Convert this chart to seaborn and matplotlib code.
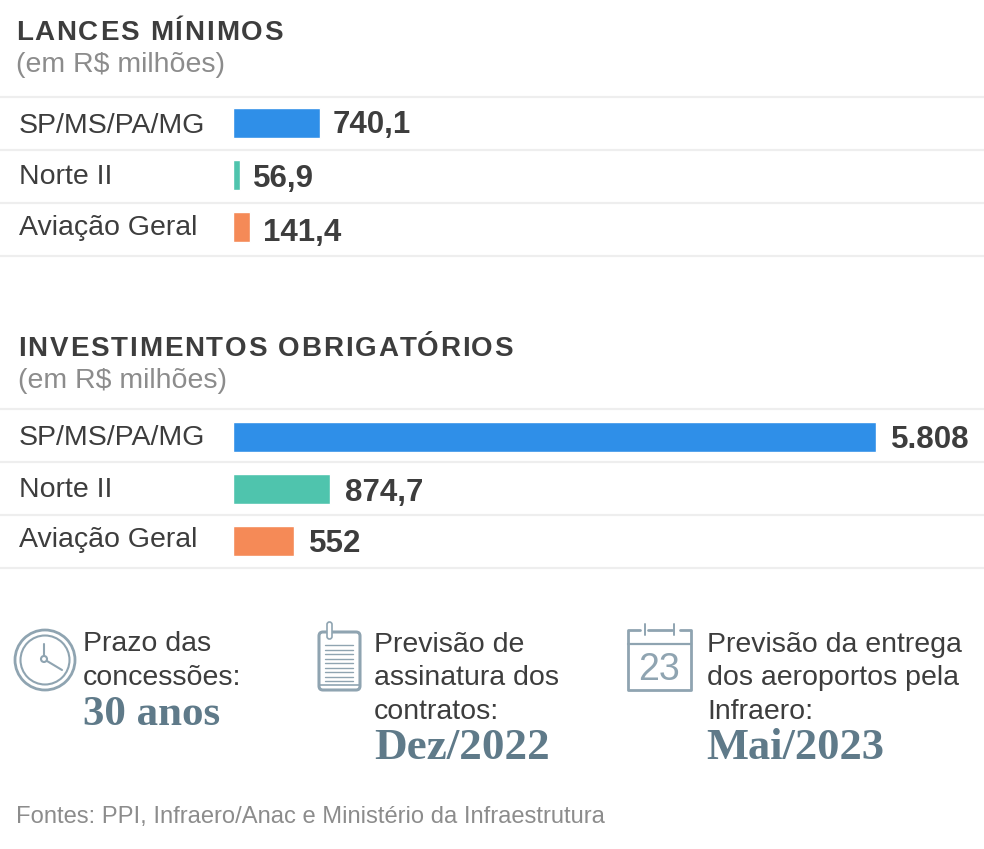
import matplotlib
matplotlib.use('Agg')
import matplotlib.pyplot as plt
import seaborn as sns
from matplotlib.patches import Circle, FancyBboxPatch

W, H = 984, 849

categories = ['SP/MS/PA/MG', 'Norte II', 'Aviação Geral']
lances = [740.1, 56.9, 141.4]
lances_labels = ['740,1', '56,9', '141,4']
investimentos = [5808, 874.7, 552]
investimentos_labels = ['5.808', '874,7', '552']
bar_colors = ['#2f8fe8', '#4fc4ad', '#f58a57']

SANS = 'Liberation Sans'
SERIF = 'Liberation Serif'
DARK = '#3d3d3d'
GRAY = '#8c8c8c'
ICON = '#8fa4b1'
SLATE = '#5f7a89'
LINE = '#eeeeee'

sns.set_theme(style='white')
plt.rcParams['font.family'] = SANS

fig = plt.figure(figsize=(W / 100, H / 100), dpi=100, facecolor='white')

# overlay in pixel coordinates, for texts and icons
bg = fig.add_axes([0, 0, 1, 1])
bg.set_xlim(0, W)
bg.set_ylim(H, 0)
bg.axis('off')


def spaced_text(x, y, s, size, spacing, color):
    # matplotlib has no letter spacing, so place the letters one by one
    renderer = fig.canvas.get_renderer()
    t = bg.text(x, y, '', fontsize=size, fontweight='bold', color=color)
    prop = t.get_fontproperties()
    for i, ch in enumerate(s):
        w = renderer.get_text_width_height_descent(s[:i], prop, False)[0] if i else 0
        bg.text(x + w + i * spacing, y, ch, fontsize=size, fontweight='bold', color=color)


def bar_panel(top, values, labels, px_per_unit, label_ys, value_dx, value_y0, value_step):
    # bars are 52px apart and about 30px thick, starting at x=233
    ax = fig.add_axes([233 / W, 1 - (top + 156) / H, (W - 233) / W, 156 / H])
    sns.barplot(x=values, y=categories, hue=categories, palette=bar_colors, legend=False,
                width=30 / 52, saturation=1, orient='h', ax=ax)
    ax.set_xlim(0, (W - 233) / px_per_unit)
    ax.set_ylim(2.5, -0.5)
    ax.axis('off')
    ax.patch.set_alpha(0)
    for i, (v, lab) in enumerate(zip(values, labels)):
        ax.annotate(lab, (v, i), xytext=(value_dx, -(value_y0 + value_step * i)), textcoords='offset pixels',
                    fontsize=22.5, fontweight='bold', color=DARK, va='baseline', ha='left')
    for cat, y in zip(categories, label_ys):
        bg.text(19, y, cat, fontsize=20.5, color=DARK)


# separators
for y0 in (97, 409):
    for i in range(4):
        bg.plot([0, W], [y0 + 53 * i] * 2, color=LINE, lw=1.6)

# headers
spaced_text(16, 40, 'LANCES MÍNIMOS', 20, 1.75, DARK)
bg.text(16, 72, '(em R$ milhões)', fontsize=20.5, color=GRAY)
spaced_text(18, 356, 'INVESTIMENTOS OBRIGATÓRIOS', 20, 1.85, DARK)
bg.text(18, 388, '(em R$ milhões)', fontsize=20.5, color=GRAY)

bar_panel(96.5, lances, lances_labels, 87 / 740.1, [133, 184, 235], 13, 10, 2.2)
bar_panel(410.5, investimentos, investimentos_labels, 643 / 5808, [445, 497, 547], 15, 12, 0)

# clock icon
bg.add_patch(Circle((45, 660), 30, fill=False, ec=ICON, lw=2))
bg.add_patch(Circle((45, 660), 24.5, fill=False, ec=ICON, lw=1.5))
bg.add_patch(Circle((44, 659), 3, fill=False, ec=ICON, lw=1.5))
bg.plot([44, 44], [644, 656], color=ICON, lw=1.5)
bg.plot([47, 62], [661, 670], color=ICON, lw=1.5)

# notepad icon
bg.add_patch(FancyBboxPatch((319, 632), 41, 58, boxstyle='round,pad=0,rounding_size=4',
                            fill=False, ec=ICON, lw=2.2))
bg.plot([319, 360], [685, 685], color=ICON, lw=1.2)
for i in range(9):
    bg.plot([325, 353], [645 + 4.5 * i] * 2, color=ICON, lw=1)
bg.add_patch(FancyBboxPatch((327, 622), 5, 17, boxstyle='round,pad=0,rounding_size=2.5',
                            fc='white', ec=ICON, lw=1.2, zorder=3))

# calendar icon
bg.plot([640, 628, 628, 691, 691, 680], [630, 630, 690, 690, 630, 630], color=ICON, lw=2)
bg.plot([648, 672], [630, 630], color=ICON, lw=2)
bg.plot([628, 691], [644, 644], color=ICON, lw=1.6)
bg.plot([645, 645], [624, 635], color=ICON, lw=1.4)
bg.plot([674, 674], [624, 635], color=ICON, lw=1.4)
bg.text(659, 680, '23', fontsize=27, color=ICON, ha='center')

# bottom notes
for s, x, y in [('Prazo das', 83, 651), ('concessões:', 83, 685),
                ('Previsão de', 374, 652), ('assinatura dos', 374, 685), ('contratos:', 374, 719),
                ('Previsão da entrega', 707, 652), ('dos aeroportos pela', 707, 685), ('Infraero:', 707, 719)]:
    bg.text(x, y, s, fontsize=20.5, color=DARK)

bg.text(83, 725, '30 anos', fontsize=31, fontweight='bold', family=SERIF, color=SLATE)
bg.text(374, 759, 'Dez/2022', fontsize=32.5, fontweight='bold', family=SERIF, color=SLATE)
bg.text(706, 759, 'Mai/2023', fontsize=32, fontweight='bold', family=SERIF, color=SLATE)

bg.text(16, 823, 'Fontes: PPI, Infraero/Anac e Ministério da Infraestrutura', fontsize=17.1, color=GRAY)

fig.savefig('out.png', dpi=100, facecolor='white')
